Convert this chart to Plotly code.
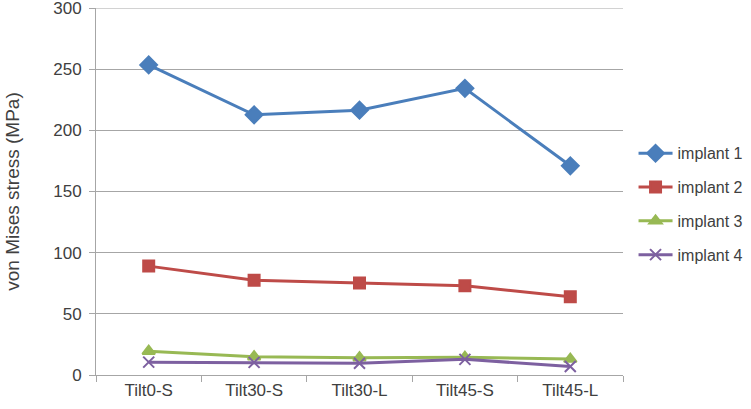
import plotly.graph_objects as go

categories = ["Tilt0-S", "Tilt30-S", "Tilt30-L", "Tilt45-S", "Tilt45-L"]
implant1 = [253.5, 212.7, 216.5, 234.3, 171.0]
implant2 = [89.0, 77.5, 75.3, 73.0, 64.0]
implant3 = [19.5, 15.0, 14.2, 14.5, 13.0]
implant4 = [10.5, 10.3, 9.6, 12.8, 7.0]

series = [
    ("implant 1", implant1, "#4A7EBB", "diamond", 13),
    ("implant 2", implant2, "#BE4B48", "square", 11),
    ("implant 3", implant3, "#98B954", "triangle-up", 11),
    ("implant 4", implant4, "#7D60A0", "x-thin", 11),
]

fig = go.Figure()
for name, vals, color, sym, size in series:
    fig.add_trace(go.Scatter(
        x=categories, y=vals, name=name, mode="lines+markers",
        legendgroup=name,
        line=dict(color=color, width=3),
        marker=dict(symbol=sym, size=size, color=color,
                    line=dict(color=color, width=2)),
    ))

font = dict(family="Liberation Sans, Arial, sans-serif", color="#404040")

# top gridline at the range end is not drawn by plotly, add it as a shape
fig.add_shape(type="line", xref="paper", yref="y", x0=0, x1=1, y0=300, y1=300,
              line=dict(color="#A6A6A6", width=1), layer="below")

fig.update_layout(
    width=751, height=409,
    margin=dict(l=96, r=128, t=8, b=34, autoexpand=False),
    plot_bgcolor="white", paper_bgcolor="white",
    font=dict(size=16, **font),
    showlegend=True,
    legend=dict(x=1.02, y=0.465, xanchor="left", yanchor="middle",
                font=dict(size=16, **font), tracegroupgap=10, itemwidth=34),
    xaxis=dict(
        type="category", range=[-0.5, 4.5], automargin=False,
        showline=True, linecolor="#A6A6A6", linewidth=1,
        ticks="outside", tickson="boundaries", ticklen=6, tickcolor="#A6A6A6",
        showgrid=False, tickfont=dict(size=17, **font),
    ),
    yaxis=dict(
        range=[0, 300], tickvals=[0, 50, 100, 150, 200, 250, 300],
        automargin=False,
        showline=True, linecolor="#A6A6A6", linewidth=1,
        ticks="outside", ticklen=6, tickcolor="#A6A6A6",
        gridcolor="#A6A6A6", gridwidth=1, zeroline=False,
        ticklabelstandoff=4, ticklabeloverflow="allow",
        tickfont=dict(size=17, **font),
        title=dict(text="von Mises stress (MPa)", font=dict(size=19, **font), standoff=28),
    ),
)

fig.write_html("out.html", config={"displayModeBar": False},
               post_script="document.body.style.margin='0';")
